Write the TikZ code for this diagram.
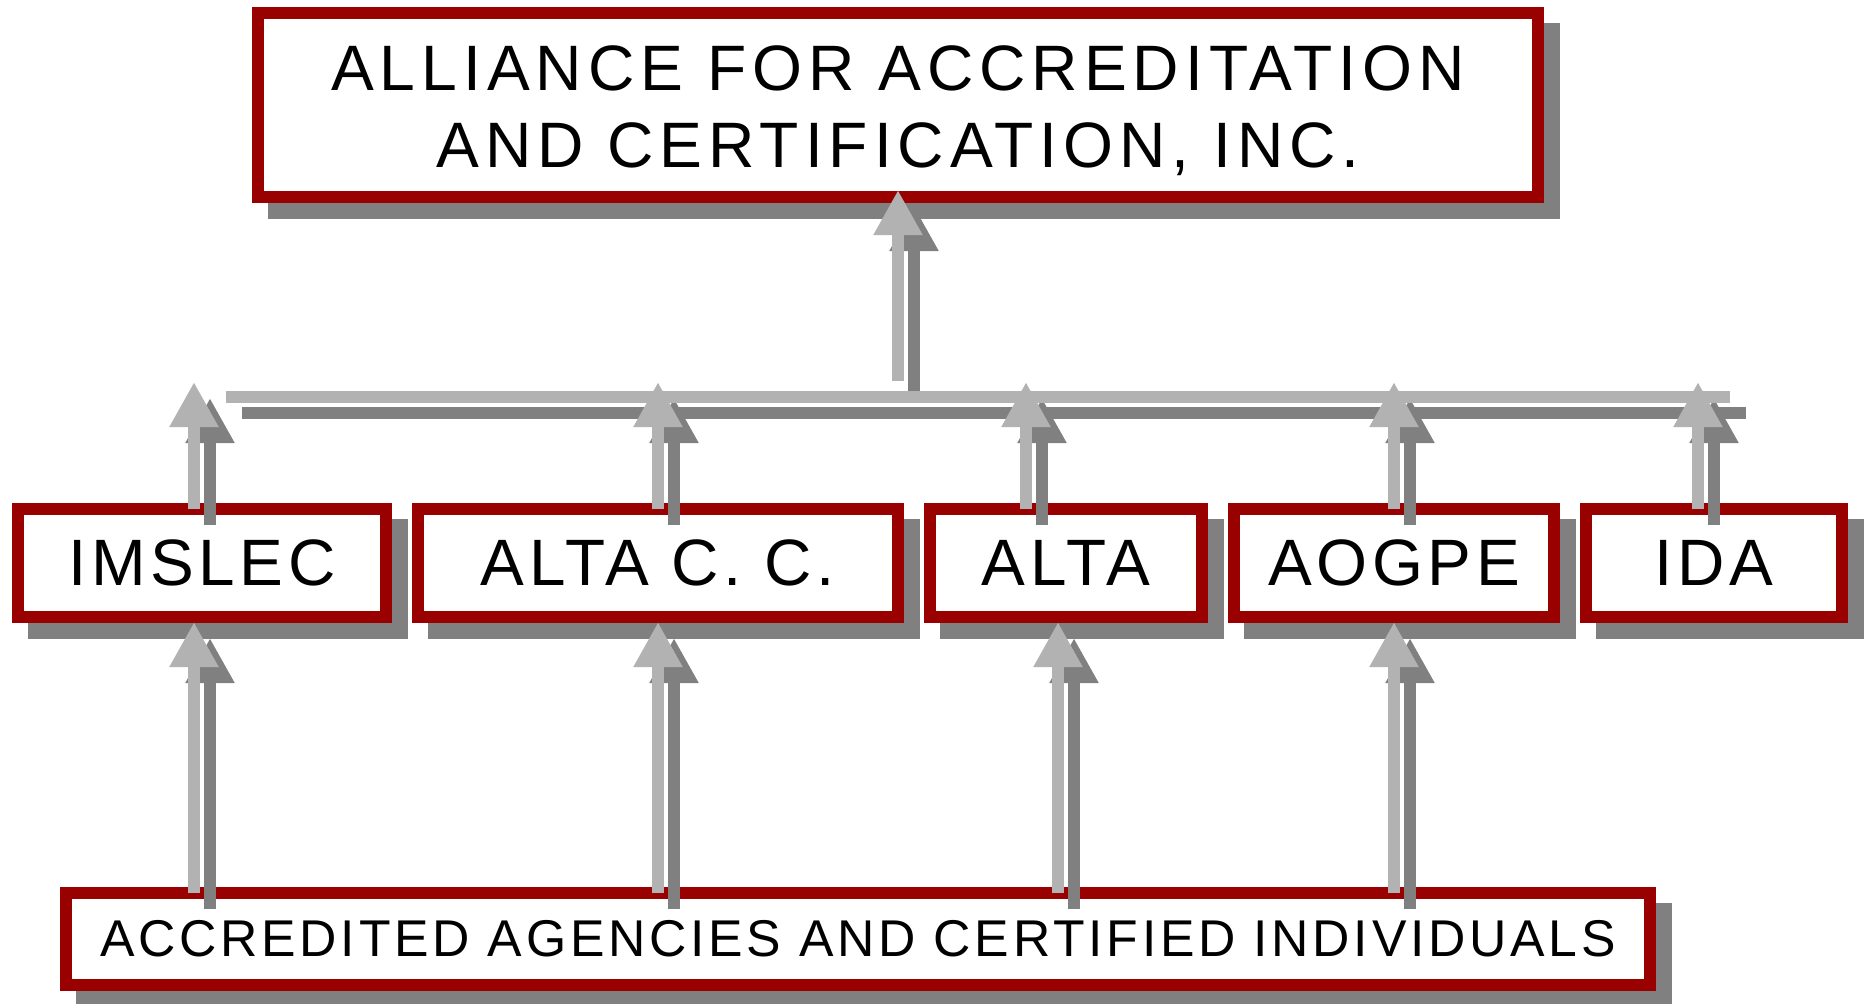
\documentclass[tikz,border=0pt]{standalone}
\usepackage{fontspec}
\setmainfont{Liberation Sans}
\newfontfamily\topfont[LetterSpace=9.3]{Liberation Sans}
\newfontfamily\midfont[LetterSpace=7]{Liberation Sans}
\newfontfamily\botfont[LetterSpace=7.2]{Liberation Sans}
\usetikzlibrary{arrows.meta}
\definecolor{boxred}{RGB}{153,0,0}
\definecolor{shadowgray}{RGB}{128,128,128}
\definecolor{arrowlight}{RGB}{178,178,178}
\begin{document}
\begin{tikzpicture}[x=0.5pt, y=-0.5pt,
  box/.style={draw=boxred, fill=white, line width=6pt, inner sep=0pt, outer sep=0pt,
    text=black, align=center,
    preaction={draw=shadowgray, fill=shadowgray, line width=6pt,
      transform canvas={shift={(8pt,-8pt)}}}},
  topbox/.style={box, font=\fontsize{32.1pt}{38.5pt}\topfont},
  midbox/.style={box, minimum height=54pt, font=\fontsize{32.8pt}{39pt}\midfont},
  botbox/.style={box, font=\fontsize{25.85pt}{31pt}\botfont},
  up/.style={line width=6pt, draw=arrowlight, -{Triangle[length=22.5pt,width=23pt]}},
  upshadow/.style={up, draw=shadowgray, transform canvas={shift={(8pt,-8pt)}}},
  bar/.style={line width=6pt, draw=arrowlight},
  barshadow/.style={bar, draw=shadowgray, transform canvas={shift={(8pt,-8pt)}}}]

\fill[white] (0,0) rectangle (1864,1003);
\useasboundingbox (0,0) rectangle (1864,1003);

% boxes
\node[topbox, minimum width=640pt, minimum height=92pt] (aac) at (898,105)
  {\rule{0pt}{28.5pt}ALLIANCE FOR ACCREDITATION\\AND CERTIFICATION, INC.};
\node[midbox, minimum width=184pt] (imslec) at (202,563) {IMSLEC};
\node[midbox, minimum width=240pt] (altacc) at (658,563) {ALTA C. C.};
\node[midbox, minimum width=136pt] (alta) at (1066,563) {ALTA};
\node[midbox, minimum width=160pt] (aogpe) at (1394,563) {AOGPE};
\node[midbox, minimum width=128pt] (ida) at (1714,563) {IDA};
\node[botbox, minimum width=792pt, minimum height=46pt] (acc) at (858,939)
  {ACCREDITED AGENCIES AND CERTIFIED INDIVIDUALS};

% named points
\coordinate (barL) at (226,397);
\coordinate (barR) at (1730,397);
\coordinate (hub) at (898,381);
\coordinate (t1) at (194,382);
\coordinate (t2) at (658,382);
\coordinate (t3) at (1026,382);
\coordinate (t4) at (1394,382);
\coordinate (t5) at (1698,382);
\coordinate (b1) at (194,622);
\coordinate (b2) at (658,622);
\coordinate (b3) at (1058,622);
\coordinate (b4) at (1394,622);

% shadows of connectors
\draw[barshadow] (barL) -- (barR);
\draw[upshadow] (hub) -- ([yshift=3.5pt]aac.south);
\draw[upshadow] (t1 |- imslec.north) -- (t1);
\draw[upshadow] (t2 |- altacc.north) -- (t2);
\draw[upshadow] (t3 |- alta.north) -- (t3);
\draw[upshadow] (t4 |- aogpe.north) -- (t4);
\draw[upshadow] (t5 |- ida.north) -- (t5);
\draw[upshadow] (b1 |- acc.north) -- (b1);
\draw[upshadow] (b2 |- acc.north) -- (b2);
\draw[upshadow] (b3 |- acc.north) -- (b3);
\draw[upshadow] (b4 |- acc.north) -- (b4);

% connectors
\draw[bar] (barL) -- (barR);
\draw[up] (hub) -- ([yshift=3.5pt]aac.south);
\draw[up] (t1 |- imslec.north) -- (t1);
\draw[up] (t2 |- altacc.north) -- (t2);
\draw[up] (t3 |- alta.north) -- (t3);
\draw[up] (t4 |- aogpe.north) -- (t4);
\draw[up] (t5 |- ida.north) -- (t5);
\draw[up] (b1 |- acc.north) -- (b1);
\draw[up] (b2 |- acc.north) -- (b2);
\draw[up] (b3 |- acc.north) -- (b3);
\draw[up] (b4 |- acc.north) -- (b4);
\end{tikzpicture}
\end{document}
